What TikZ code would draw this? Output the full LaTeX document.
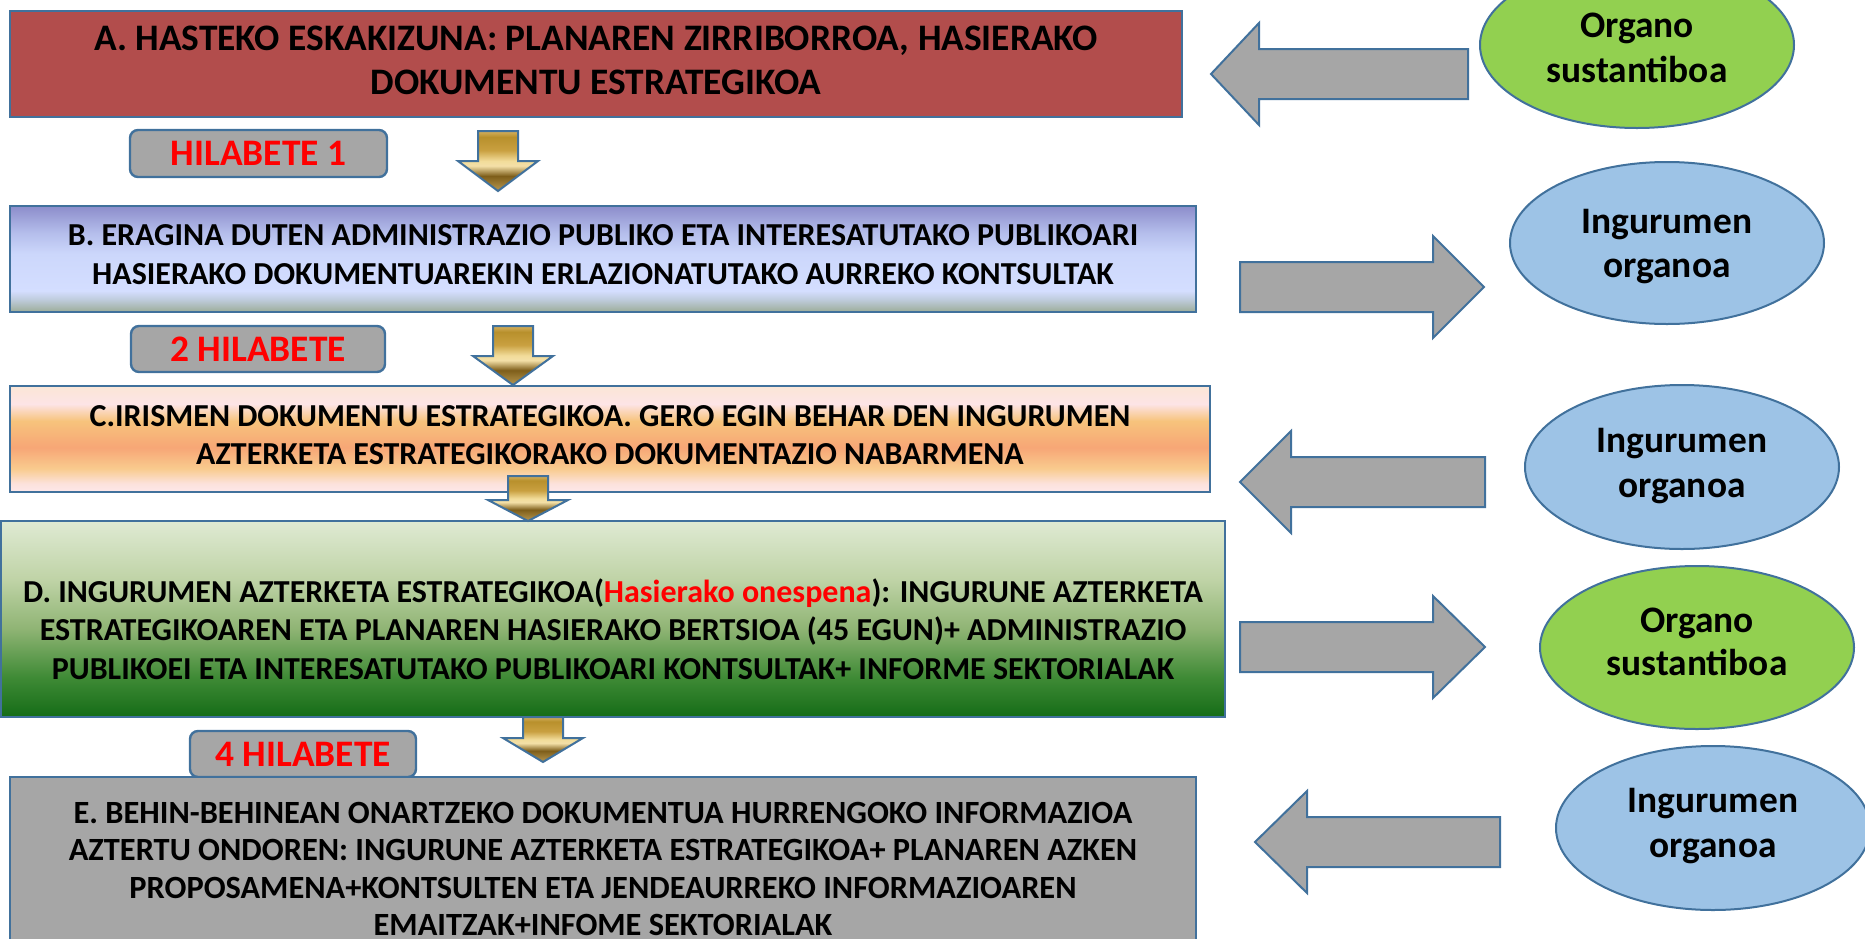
\documentclass[tikz,border=0pt]{standalone}
\usepackage{fontspec}
\setmainfont{Carlito}
\usetikzlibrary{shapes.geometric}
\definecolor{bord}{HTML}{41719C}
\definecolor{gry}{HTML}{A6A6A6}
\definecolor{boxA}{HTML}{B24D4C}
\definecolor{ellG}{HTML}{92D050}
\definecolor{ellB}{HTML}{9DC3E6}
\definecolor{redtxt}{HTML}{FF0000}
% box B
\definecolor{bB0}{HTML}{8C8DCB}\definecolor{bB1}{HTML}{B4BDEB}\definecolor{bB2}{HTML}{CCD7FB}
\definecolor{bB3}{HTML}{D4DEFF}\definecolor{bB4}{HTML}{BFCCDD}\definecolor{bB5}{HTML}{9CAC98}
% box C
\definecolor{bC0}{HTML}{FBE6D6}\definecolor{bC1}{HTML}{FDE4E6}\definecolor{bC2}{HTML}{F7C37C}
\definecolor{bC3}{HTML}{F7A676}\definecolor{bC4}{HTML}{F9CB8E}\definecolor{bC5}{HTML}{FCE2DC}
\definecolor{bC6}{HTML}{FDE8EA}
% box D
\definecolor{bD0}{HTML}{DFEAD3}\definecolor{bD1}{HTML}{BFD3A6}\definecolor{bD2}{HTML}{8FB474}
\definecolor{bD3}{HTML}{3E8A35}\definecolor{bD4}{HTML}{156C17}
% gold
\definecolor{g0}{HTML}{D4B060}\definecolor{g1}{HTML}{B8902C}\definecolor{g2}{HTML}{C9A040}
\definecolor{g3}{HTML}{F2DC9A}\definecolor{g4}{HTML}{F4E0A8}\definecolor{g5}{HTML}{7E5E1A}
\definecolor{g6}{HTML}{B89850}
\pgfdeclareverticalshading{shB}{100bp}{color(0bp)=(bB5); color(25bp)=(bB5); color(31bp)=(bB4);
  color(35bp)=(bB3); color(52.5bp)=(bB2); color(62.5bp)=(bB1); color(75bp)=(bB0); color(100bp)=(bB0)}
\pgfdeclareverticalshading{shC}{100bp}{color(0bp)=(bC6); color(25bp)=(bC6); color(29bp)=(bC5);
  color(36bp)=(bC4); color(46bp)=(bC3); color(58.5bp)=(bC2); color(66.5bp)=(bC1); color(75bp)=(bC0); color(100bp)=(bC0)}
\pgfdeclareverticalshading{shD}{100bp}{color(0bp)=(bD4); color(25bp)=(bD4); color(35bp)=(bD3);
  color(47.5bp)=(bD2); color(60bp)=(bD1); color(75bp)=(bD0); color(100bp)=(bD0)}
\pgfdeclareverticalshading{shG}{100bp}{color(0bp)=(g6); color(25bp)=(g6); color(37.5bp)=(g5);
  color(46bp)=(g4); color(50bp)=(g3); color(59bp)=(g2); color(70bp)=(g1); color(75bp)=(g0); color(100bp)=(g0)}

\newcommand\blkleft[4]{% tip x, head base x, tail x, centre y
  \draw[blockarrow] (#1,#4) -- (#2,#4-51) -- (#2,#4-25) -- (#3,#4-25) -- (#3,#4+25)
    -- (#2,#4+25) -- (#2,#4+51) -- cycle;}
\newcommand\blkright[4]{% tail x, head base x, tip x, centre y
  \draw[blockarrow] (#3,#4) -- (#2,#4-51) -- (#2,#4-25) -- (#1,#4-25) -- (#1,#4+25)
    -- (#2,#4+25) -- (#2,#4+51) -- cycle;}
\newcommand\golddown[4]{% centre x, top, head base, tip
  \path[goldarrow] (#1-20,#2) -- (#1+20,#2) -- (#1+20,#3) -- (#1+40,#3) -- (#1,#4)
    -- (#1-40,#3) -- (#1-20,#3) -- cycle;}

\begin{document}
\begin{tikzpicture}[x=0.5pt,y=-0.5pt,
  stagebox/.style={draw=bord, line width=1.3pt, rectangle, inner sep=0pt},
  stagetext/.style={font=\bfseries, align=center, inner sep=0pt, text=black},
  monthbox/.style={draw=bord, line width=1.2pt, fill=gry, rounded corners=4pt, rectangle, inner sep=0pt,
     font=\fontsize{18.7pt}{20pt}\selectfont\bfseries, text=redtxt},
  organ/.style={ellipse, draw=bord, line width=1pt, inner sep=0pt, minimum width=157pt},
  organtext/.style={anchor=base, inner sep=0pt, font=\fontsize{18.7pt}{22.5pt}\selectfont\bfseries},
  blockarrow/.style={draw=bord, line width=1pt, fill=gry},
  goldarrow/.style={draw=bord, line width=1pt, shading=shG}]
\path[use as bounding box] (0,0) rectangle (1865,938);
\clip (0,0) rectangle (1865,938);

% stage boxes
\node[stagebox, fill=boxA, minimum width=586pt, minimum height=53pt] (A) at (596,64) {};
\node[stagebox, shading=shB, minimum width=593pt, minimum height=53pt] (B) at (603,259) {};
\node[stagebox, shading=shC, minimum width=600pt, minimum height=53pt] (C) at (610,439) {};
\node[stagebox, shading=shD, minimum width=612pt, minimum height=98pt] (D) at (613,619) {};
\node[monthbox, minimum width=113pt, minimum height=23pt] (M4) at (303,754) {4 HILABETE};
\node[stagebox, fill=gry, minimum width=593pt, minimum height=92pt] (E) at (603,869) {};

% stage texts
\node[stagetext, font=\fontsize{18.7pt}{22pt}\selectfont\bfseries] (At) at (596,60)
  {A. HASTEKO ESKAKIZUNA: PLANAREN ZIRRIBORROA, HASIERAKO\\DOKUMENTU ESTRATEGIKOA};
\node[stagetext, font=\fontsize{16pt}{19.5pt}\selectfont\bfseries] (Bt) at (603,255)
  {B. ERAGINA DUTEN ADMINISTRAZIO PUBLIKO ETA INTERESATUTAKO PUBLIKOARI\\HASIERAKO DOKUMENTUAREKIN ERLAZIONATUTAKO AURREKO KONTSULTAK};
\node[stagetext, font=\fontsize{16pt}{19pt}\selectfont\bfseries] (Ct) at (610,435)
  {C.IRISMEN DOKUMENTU ESTRATEGIKOA. GERO EGIN BEHAR DEN INGURUMEN\\AZTERKETA ESTRATEGIKORAKO DOKUMENTAZIO NABARMENA};
\node[stagetext, font=\fontsize{16pt}{19.25pt}\selectfont\bfseries] (Dt) at (613,629)
  {D. INGURUMEN AZTERKETA ESTRATEGIKOA(\textcolor{redtxt}{Hasierako onespena}): INGURUNE AZTERKETA\\
   ESTRATEGIKOAREN ETA PLANAREN HASIERAKO BERTSIOA (45 EGUN)+ ADMINISTRAZIO\\
   PUBLIKOEI ETA INTERESATUTAKO PUBLIKOARI KONTSULTAK+ INFORME SEKTORIALAK};
\node[stagetext, font=\fontsize{16.2pt}{18.75pt}\selectfont\bfseries] (Et) at (603,869)
  {E. BEHIN-BEHINEAN ONARTZEKO DOKUMENTUA HURRENGOKO INFORMAZIOA\\
   AZTERTU ONDOREN: INGURUNE AZTERKETA ESTRATEGIKOA+ PLANAREN AZKEN\\
   PROPOSAMENA+KONTSULTEN ETA JENDEAURREKO INFORMAZIOAREN\\
   EMAITZAK+INFOME SEKTORIALAK};

% month labels
\node[monthbox, minimum width=128.5pt, minimum height=23.5pt] (M1) at (258.5,153.5) {HILABETE 1};
\node[monthbox, minimum width=127pt, minimum height=23pt] (M2) at (258,349) {2 HILABETE};

% down arrows
\golddown{498}{131}{161}{191}
\golddown{513}{326}{356}{385}
\golddown{528}{476}{500}{521}
\golddown{543}{717}{738}{762}

% organs
\node[organ, fill=ellG, minimum height=83pt] (O1) at (1637,45) {};
\node[organtext] (O1a) at (1637,37) {Organo};
\node[organtext] (O1b) at (1637,82) {sustantiboa};
\node[organ, fill=ellB, minimum height=81pt] (O2) at (1667,243) {};
\node[organtext] (O2a) at (1667,233) {Ingurumen};
\node[organtext] (O2b) at (1667,277) {organoa};
\node[organ, fill=ellB, minimum height=82pt] (O3) at (1682,467) {};
\node[organtext] (O3a) at (1682,452) {Ingurumen};
\node[organtext] (O3b) at (1682,497) {organoa};
\node[organ, fill=ellG, minimum height=81.5pt] (O4) at (1697,647.5) {};
\node[organtext] (O4a) at (1697,632) {Organo};
\node[organtext] (O4b) at (1697,675) {sustantiboa};
\node[organ, fill=ellB, minimum height=82pt] (O5) at (1713,828) {};
\node[organtext] (O5a) at (1713,812) {Ingurumen};
\node[organtext] (O5b) at (1713,857) {organoa};

% side arrows
\blkleft{1211}{1259}{1468}{74}
\blkright{1240}{1433}{1484}{287}
\blkleft{1240}{1291}{1485}{482}
\blkright{1240}{1433}{1485}{647}
\blkleft{1255}{1307}{1500}{842}
\end{tikzpicture}
\end{document}
